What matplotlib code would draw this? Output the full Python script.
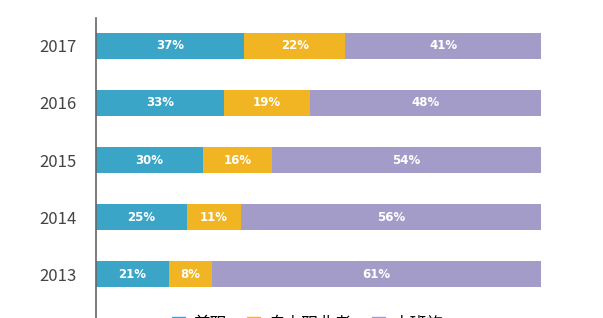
import numpy as np
import matplotlib
matplotlib.use("Agg")
import matplotlib.pyplot as plt

plt.rcParams['font.family'] = ['Noto Sans CJK SC', 'DejaVu Sans']

years = ["2013", "2014", "2015", "2016", "2017"]
# bar shares as drawn (each row fills 100)
share_a = [16.4, 20.4, 24.0, 28.8, 33.3]
share_b = [9.7, 12.1, 15.5, 19.3, 22.7]
share_c = [73.9, 67.5, 60.5, 51.9, 44.0]
# labels printed in the bars
label_a = [21, 25, 30, 33, 37]
label_b = [8, 11, 16, 19, 22]
label_c = [61, 56, 54, 48, 41]
legend_names = ["兼职", "自由职业者", "上班族"]
colors = ["#3AA5C6", "#F1B422", "#A49CC8"]

fig = plt.figure(figsize=(6.03, 3.18), dpi=100)
ax = fig.add_axes([96 / 603, 0, 445 / 603, 300 / 318])

y = np.arange(len(years))
h = 0.46
left = np.zeros(len(years))
for shares, labels, col in zip([share_a, share_b, share_c], [label_a, label_b, label_c], colors):
    shares = np.array(shares)
    ax.barh(y, shares, left=left, height=h, color=col, edgecolor="none")
    for yi, l, s, lab in zip(y, left, shares, labels):
        ax.text(l + s / 2, yi, f"{lab}%", ha="center", va="center",
                color="white", fontsize=8.5, fontweight="bold", family="DejaVu Sans")
    left = left + shares

ax.set_xlim(0, 100)
ax.set_ylim(-0.77, 4.49)
ax.set_xticks([])
ax.set_yticks(y)
ax.set_yticklabels(years, fontsize=12, color="#444444")
ax.tick_params(axis="y", length=0, pad=14)
for s in ["top", "right", "bottom"]:
    ax.spines[s].set_visible(False)
ax.spines["left"].set_color("#666666")
ax.spines["left"].set_linewidth(1.2)

# legend sits at the bottom edge, half cut off like the source
handles = [plt.Rectangle((0, 0), 1, 1, color=c) for c in colors]
fig.legend(handles, legend_names, loc="center", bbox_to_anchor=(0.51, -0.02),
           ncol=3, frameon=False, fontsize=12, handlelength=0.8, handleheight=0.8,
           columnspacing=1.2, handletextpad=0.5)

fig.savefig("out.png", dpi=100)
